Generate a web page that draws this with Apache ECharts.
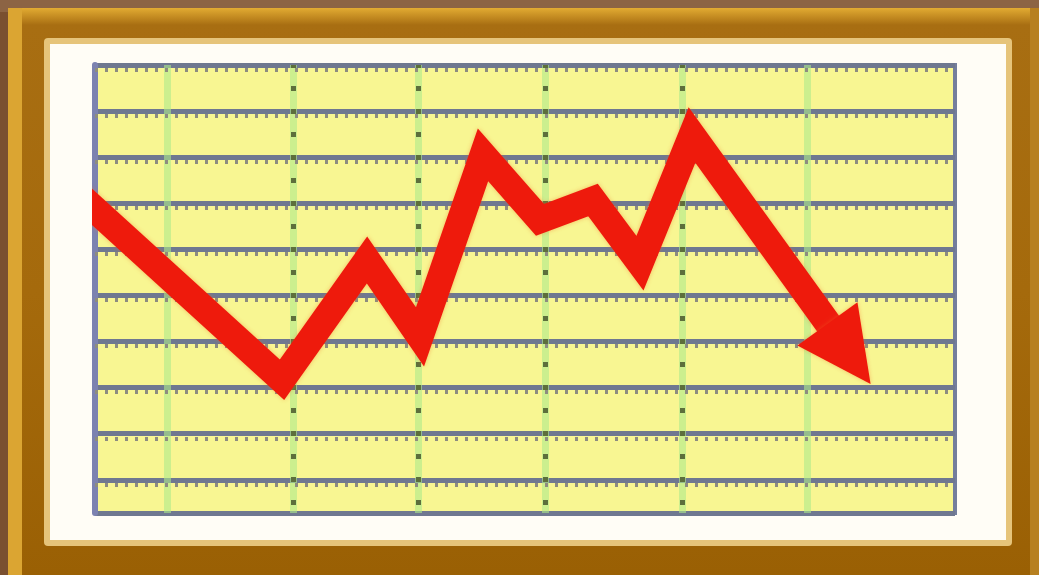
<!DOCTYPE html>
<html>
<head>
<meta charset="utf-8">
<script src="https://cdn.jsdelivr.net/npm/echarts@6/dist/echarts.min.js"></script>
<style>
  html, body { margin: 0; padding: 0; background: #7a5030; }
  #chart { width: 1039px; height: 575px; }
</style>
</head>
<body>
<div id="chart"></div>
<script>
// ---- data ----
const lineX = [-1.5, 18.7, 27.2, 32.5, 38.8, 44.5, 49.8, 54.5, 59.7, 74.5];
const lineY = [28.4, 68.3, 42.3, 59.0, 19.5, 33.6, 29.3, 43.0, 15.2, 59.7];
const arrowHead = [75.4, 62.7];
const verticalMain = [19.8, 32.3, 45.0, 58.7];
const verticalFaint = [7.2, 71.2];
const yTicks = [0, 10, 20, 30, 40, 50, 60, 70, 80, 90];

const chart = echarts.init(document.getElementById('chart'), null, { renderer: 'canvas' });

const lineData = lineX.map((x, i) => [x, lineY[i]]);

const vertMarks = [];
verticalFaint.forEach(v => vertMarks.push({ xAxis: v, lineStyle: { color: 'rgba(175,235,140,0.6)', width: 7, type: 'solid' } }));
verticalMain.forEach(v => vertMarks.push({ xAxis: v, lineStyle: { color: 'rgba(175,235,140,0.6)', width: 7, type: 'solid' } }));
verticalMain.forEach(v => vertMarks.push({ xAxis: v, lineStyle: { color: '#5d6f3c', width: 5, type: [5, 18], dashOffset: 2 } }));
const toothMarks = yTicks.map(t => ({ yAxis: t + 1.0, lineStyle: { color: '#8d8c80', width: 4, type: [3, 7] } }));

const option = {
  animation: false,
  backgroundColor: 'transparent',
  graphic: [
    { type: 'rect', z: -100, shape: { x: 0, y: 0, width: 1039, height: 12 }, style: { fill: '#8c6444' } },
    { type: 'rect', z: -99, shape: { x: 8, y: 8, width: 1031, height: 567 },
      style: { fill: new echarts.graphic.LinearGradient(0, 0, 0, 1, [
        { offset: 0, color: '#e2ab32' }, { offset: 0.03, color: '#a86e12' },
        { offset: 0.5, color: '#a56a0c' }, { offset: 1, color: '#9a6004' }]) } },
    { type: 'rect', z: -98, shape: { x: 8, y: 8, width: 14, height: 567 }, style: { fill: '#dba532' } },
    { type: 'rect', z: -98, shape: { x: 1030, y: 8, width: 9, height: 567 }, style: { fill: '#b78020' } },
    { type: 'rect', z: -97, shape: { x: 44, y: 38, width: 968, height: 508, r: 4 }, style: { fill: '#e6c47a' } },
    { type: 'rect', z: -96, shape: { x: 50, y: 44, width: 956, height: 496 }, style: { fill: '#fffdf6' } },
    { type: 'rect', z: 100, shape: { x: 52, y: 62, width: 40, height: 460 }, style: { fill: '#fffdf6' } }
  ],
  grid: {
    left: 95, top: 65, width: 860, height: 448,
    show: true, backgroundColor: '#f8f692', borderColor: '#747e9c', borderWidth: 4
  },
  xAxis: {
    type: 'value', min: 0, max: 86,
    axisLine: { show: false }, axisTick: { show: false }, axisLabel: { show: false },
    splitLine: { show: false }
  },
  yAxis: {
    type: 'value', inverse: true, min: 0, max: 97.2, interval: 10,
    axisLine: { show: true, lineStyle: { color: '#7c82b0', width: 6 } },
    axisTick: { show: false }, axisLabel: { show: false },
    splitLine: { show: true, lineStyle: { color: '#6f7890', width: 5 } }
  },
  series: [
    {
      type: 'scatter', data: [[0, 0]], symbolSize: 0, silent: true, z: 1,
      markLine: { silent: true, symbol: 'none', label: { show: false }, animation: false,
        data: vertMarks.concat(toothMarks) }
    },
    {
      type: 'line', data: lineData, symbol: 'none', z: 5,
      lineStyle: { color: '#ee1a0c', width: 27, join: 'miter', miterLimit: 2.5, cap: 'butt',
        shadowColor: 'rgba(240,110,40,0.45)', shadowBlur: 4 }
    },
    {
      type: 'scatter', data: [arrowHead], symbol: 'triangle', symbolSize: [74, 74],
      symbolRotate: 215.7, z: 6, silent: true,
      itemStyle: { color: '#ee1a0c', opacity: 1, shadowColor: 'rgba(240,110,40,0.45)', shadowBlur: 4 }
    }
  ]
};
chart.setOption(option);
</script>
</body>
</html>
